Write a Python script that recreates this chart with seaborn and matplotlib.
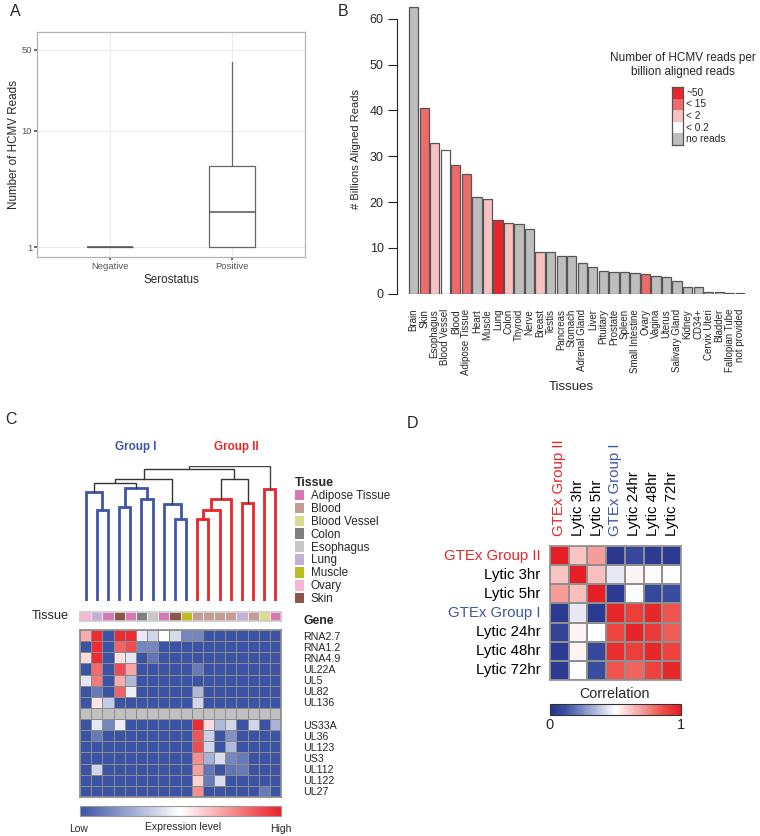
import numpy as np
import pandas as pd
import matplotlib.pyplot as plt
import seaborn as sns
from matplotlib.colors import LinearSegmentedColormap, ListedColormap
from matplotlib.patches import Patch
from matplotlib.ticker import NullLocator

sns.set_theme(style="white")
plt.rcParams['font.family'] = ['Liberation Sans', 'DejaVu Sans']

# ── Data ──────────────────────────────────────────────────
# A: HCMV reads by serostatus (box summary)
sero_groups = ['Negative', 'Positive']
sero_q1 = [1, 1]
sero_median = [1, 2.0]
sero_q3 = [1, 5.0]
sero_whislo = [1, 1]
sero_whishi = [1, 39]

# B: aligned reads per tissue
tissues = ['Brain', 'Skin', 'Esophagus', 'Blood Vessel', 'Blood', 'Adipose Tissue',
           'Heart', 'Muscle', 'Lung', 'Colon', 'Thyroid', 'Nerve', 'Breast', 'Testis',
           'Pancreas', 'Stomach', 'Adrenal Gland', 'Liver', 'Pituitary', 'Prostate',
           'Spleen', 'Small Intestine', 'Ovary', 'Vagina', 'Uterus', 'Salivary Gland',
           'Kidney', 'CD34+', 'Cervix Uteri', 'Bladder', 'Fallopian Tube', 'not provided']
billions = [62.5, 40.6, 32.9, 31.4, 28.1, 26.2, 21.2, 20.7, 16.0, 15.5, 15.2, 14.1,
            9.1, 9.0, 8.3, 8.2, 6.8, 5.8, 5.0, 4.8, 4.7, 4.5, 4.3, 3.8, 3.7, 2.8,
            1.5, 1.4, 0.35, 0.3, 0.2, 0.2]
read_level = ['no reads', '< 15', '< 2', '< 0.2', '< 15', '< 15', 'no reads', '< 2',
              '~50', '< 2', 'no reads', 'no reads', '< 2', 'no reads', 'no reads',
              'no reads', 'no reads', 'no reads', 'no reads', 'no reads', 'no reads',
              'no reads', '< 15', 'no reads', 'no reads', 'no reads', 'no reads',
              'no reads', 'no reads', 'no reads', 'no reads', 'no reads']
level_names = ['~50', '< 15', '< 2', '< 0.2', 'no reads']
level_colors = ['#E8262B', '#EF6A6A', '#F8C1C1', '#FFFFFF', '#BEBEBE']

# C: tissue annotation, dendrogram and gene expression
tissue_names = ['Adipose Tissue', 'Blood', 'Blood Vessel', 'Colon', 'Esophagus',
                'Lung', 'Muscle', 'Ovary', 'Skin']
tissue_colors = ['#D678B8', '#C49C94', '#DBDB8D', '#7F7F7F', '#C7C7C7',
                 '#C5B0D5', '#BCBD22', '#F7B6D2', '#8C564B']
sample_tissue = ['Ovary', 'Lung', 'Adipose Tissue', 'Skin', 'Adipose Tissue', 'Colon',
                 'Esophagus', 'Adipose Tissue', 'Skin', 'Muscle', 'Blood', 'Blood',
                 'Blood', 'Blood', 'Lung', 'Blood', 'Blood Vessel', 'Adipose Tissue']
# linkage: node ids 0-17 are samples, merge k creates node 18+k
merge_left = [1, 0, 3, 5, 20, 8, 7, 19, 25, 10, 27, 28, 14, 29, 16, 26, 33]
merge_right = [2, 18, 4, 6, 21, 9, 23, 22, 24, 11, 12, 13, 15, 30, 17, 31, 32]
merge_height = [2.72, 3.26, 2.82, 3.04, 3.39, 2.45, 2.91, 3.54, 3.64,
                2.44, 2.72, 3.04, 2.94, 3.66, 3.35, 3.94, 4.04]
merge_group = ['I', 'I', 'I', 'I', 'I', 'I', 'I', 'top', 'top',
               'II', 'II', 'II', 'II', 'top', 'II', 'top', 'root']

genes_top = ['RNA2.7', 'RNA1.2', 'RNA4.9', 'UL22A', 'UL5', 'UL82', 'UL136']
genes_bottom = ['US33A', 'UL36', 'UL123', 'US3', 'UL112', 'UL122', 'UL27']
expr_top = [
    [0.68, 0.97, 0, 0.97, 0.97, 0.44, 0.38, 0.5, 0.4, 0.15, 0.15, 0, 0, 0, 0, 0, 0, 0],
    [0, 0.97, 0, 0.85, 0.9, 0.15, 0.15, 0, 0, 0, 0, 0, 0, 0, 0, 0, 0, 0],
    [0.58, 0.97, 0, 0.57, 0.43, 0, 0.1, 0, 0, 0, 0, 0, 0, 0, 0, 0, 0, 0],
    [0, 0.83, 0, 0.9, 0.7, 0, 0, 0, 0, 0, 0.12, 0, 0, 0, 0, 0, 0, 0],
    [0.43, 0.8, 0, 0.68, 0.3, 0, 0, 0, 0, 0, 0, 0, 0, 0, 0, 0, 0, 0],
    [0, 0.12, 0, 0.85, 0.45, 0, 0, 0, 0, 0, 0.3, 0, 0, 0, 0, 0, 0, 0],
    [0, 0.56, 0.35, 0, 0, 0, 0, 0, 0, 0, 0.38, 0, 0, 0, 0, 0, 0, 0],
]
expr_bottom = [
    [0, 0.43, 0.15, 0.45, 0, 0, 0, 0, 0, 0, 0.97, 0.58, 0.3, 0.38, 0, 0.38, 0, 0.28],
    [0, 0.12, 0, 0, 0, 0, 0, 0, 0, 0, 0.88, 0.36, 0, 0.18, 0, 0, 0, 0],
    [0, 0, 0, 0, 0, 0, 0, 0, 0, 0, 0.9, 0.38, 0, 0.3, 0, 0, 0, 0],
    [0, 0, 0, 0, 0, 0, 0, 0, 0, 0, 0.75, 0.28, 0.4, 0.15, 0.12, 0, 0, 0],
    [0, 0.38, 0, 0, 0, 0, 0, 0, 0, 0, 0.72, 0.1, 0, 0.1, 0.12, 0, 0, 0],
    [0, 0, 0, 0, 0, 0, 0, 0, 0, 0, 0.6, 0.12, 0.4, 0, 0, 0, 0, 0],
    [0, 0, 0, 0, 0, 0, 0, 0, 0, 0, 0.75, 0, 0, 0, 0, 0, 0.12, 0],
]

# D: correlation between GTEx groups and lytic time points
corr_labels = ['GTEx Group II', 'Lytic 3hr', 'Lytic 5hr', 'GTEx Group I',
               'Lytic 24hr', 'Lytic 48hr', 'Lytic 72hr']
corr_values = [
    [1.00, 0.62, 0.70, 0.02, 0.08, 0.03, 0.03],
    [0.62, 1.00, 0.63, 0.45, 0.52, 0.51, 0.50],
    [0.70, 0.63, 1.00, 0.03, 0.50, 0.08, 0.10],
    [0.03, 0.45, 0.03, 0.97, 0.90, 0.97, 0.85],
    [0.06, 0.52, 0.50, 0.88, 0.98, 0.91, 0.83],
    [0.03, 0.52, 0.08, 0.95, 0.90, 0.97, 0.89],
    [0.03, 0.50, 0.10, 0.85, 0.82, 0.89, 0.97],
]

# ── Styling ───────────────────────────────────────────────
BLUE, RED = '#3F56A6', '#E8262B'
GROUP_COLORS = {'I': BLUE, 'II': RED, 'top': '#333333', 'root': '#444444'}
cmap_expr = LinearSegmentedColormap.from_list('expr', ['#3A53A4', '#FFFFFF', '#EC1F26'])
cmap_corr = LinearSegmentedColormap.from_list(
    'corr', [(0, '#27348B'), (0.12, '#3C52A4'), (0.5, '#FFFFFF'), (0.88, '#EE4540'), (1, '#E51F25')])

W, H = 760, 836
fig = plt.figure(figsize=(W / 100, H / 100), dpi=100)


def box(x0, y0, x1, y1):
    return [x0 / W, 1 - y1 / H, (x1 - x0) / W, (y1 - y0) / H]


def ftext(x, y, s, **kw):
    fig.text(x / W, 1 - y / H, s, **kw)


# ── Panel A: box plot ─────────────────────────────────────
axA = fig.add_axes(box(37, 32, 305, 257))
stats = [dict(label=g, q1=a, med=m, q3=b, whislo=lo, whishi=hi, fliers=[])
         for g, a, m, b, lo, hi in zip(sero_groups, sero_q1, sero_median, sero_q3,
                                         sero_whislo, sero_whishi)]
axA.bxp(stats, positions=[0, 1], widths=0.375, showfliers=False, showcaps=False,
        patch_artist=True,
        boxprops=dict(facecolor='white', edgecolor='#666666', linewidth=0.9),
        medianprops=dict(color='#555555', linewidth=1.1),
        whiskerprops=dict(color='#666666', linewidth=0.9))
axA.set_yscale('log')
axA.set_ylim(0.82, 71.3)
axA.set_xlim(-0.6, 1.6)
axA.set_yticks([1, 10, 50])
axA.set_yticklabels(['1', '10', '50'])
axA.yaxis.set_minor_locator(NullLocator())
axA.grid(True, color='#ebebeb', linewidth=0.8)
axA.set_axisbelow(True)
for s in axA.spines.values():
    s.set_color('#b3b3b3')
    s.set_linewidth(0.9)
axA.tick_params(left=True, bottom=True, length=2, color='#555555',
                labelsize=6.8, labelcolor='#555555', pad=1.5)
axA.set_ylabel('Number of HCMV Reads', fontsize=8.4, labelpad=1)
axA.set_xlabel('Serostatus', fontsize=8.4, labelpad=2)

# ── Panel B: bar chart ────────────────────────────────────
axB = fig.add_axes(box(397, 4, 745, 293.7))
bar_df = pd.DataFrame({'tissue': tissues, 'reads': billions, 'level': read_level})
sns.barplot(data=bar_df, x='tissue', y='reads', hue='level', hue_order=level_names,
            palette=dict(zip(level_names, level_colors)), dodge=False, width=0.88,
            saturation=1, edgecolor='#555555', linewidth=0.9, legend=False, ax=axB)
axB.set_xlim(-1.58, 31.44)
axB.set_ylim(0, 63.2)
axB.set_yticks(range(0, 61, 10))
for side in ['top', 'right', 'bottom']:
    axB.spines[side].set_visible(False)
axB.spines['left'].set_bounds(0, 60)
axB.spines['left'].set_color('#222222')
axB.spines['left'].set_linewidth(0.8)
axB.tick_params(axis='y', left=True, length=6.5, width=0.8, color='#222222',
                labelsize=9, pad=3)
axB.tick_params(axis='x', bottom=False, length=0, pad=11, labelsize=7, labelrotation=90)
axB.set_ylabel('# Billions Aligned Reads', fontsize=8, labelpad=6)
axB.set_xlabel('Tissues', fontsize=9.5, labelpad=4)

ftext(683, 65, 'Number of HCMV reads per\nbillion aligned reads', fontsize=8.5,
      ha='center', va='center', linespacing=1.15)
axL = fig.add_axes(box(672, 87, 683, 145))
sns.heatmap(np.arange(len(level_names))[:, None], cmap=ListedColormap(level_colors),
            cbar=False, xticklabels=False, yticklabels=False, ax=axL)
for s in axL.spines.values():
    s.set_visible(True)
    s.set_color('#555555')
    s.set_linewidth(0.9)
for i, name in enumerate(level_names):
    axL.text(1.3, i + 0.5, name, fontsize=7.3, va='center', ha='left')

# ── Panel C: dendrogram, tissue bar, expression heatmap ───
axD0 = fig.add_axes(box(80, 466, 281, 600.7))
n_leaf = len(sample_tissue)
node_x = [i + 0.5 for i in range(n_leaf)]
node_h = [0.0] * n_leaf
for a, b, h, g in zip(merge_left, merge_right, merge_height, merge_group):
    xa, xb = node_x[a], node_x[b]
    col = GROUP_COLORS[g]
    lw = 2.0 if g in ('I', 'II') else 1.0
    axD0.plot([xa, xa, xb, xb], [node_h[a], h, h, node_h[b]], color=col, lw=lw,
              solid_joinstyle='miter')
    node_x.append((xa + xb) / 2)
    node_h.append(h)
axD0.set_xlim(0, n_leaf)
axD0.set_ylim(0, max(merge_height))
axD0.axis('off')
ftext(136, 447, 'Group I', color=BLUE, fontsize=8.4, fontweight='bold', ha='center', va='center')
ftext(236, 447, 'Group II', color=RED, fontsize=8.4, fontweight='bold', ha='center', va='center')

axT = fig.add_axes(box(80, 612, 281, 621))
codes = np.array([[tissue_names.index(t) for t in sample_tissue]])
sns.heatmap(codes, cmap=ListedColormap(tissue_colors), vmin=-0.5, vmax=len(tissue_names) - 0.5,
            cbar=False, linewidths=0.6, linecolor='#f2f2f2', xticklabels=False,
            yticklabels=False, ax=axT)
for s in axT.spines.values():
    s.set_visible(True)
    s.set_color('#cccccc')
ftext(50, 616, 'Tissue', fontsize=9.2, ha='center', va='center')

gene_labels = genes_top + [''] + genes_bottom
expr = np.array(expr_top + [[np.nan] * n_leaf] + expr_bottom)
sep = np.full_like(expr, np.nan)
sep[len(genes_top)] = 0
axH = fig.add_axes(box(80, 630, 281, 797))
caxC = fig.add_axes(box(80, 806, 281, 816))
sns.heatmap(pd.DataFrame(expr, index=gene_labels), cmap=cmap_expr, vmin=0, vmax=1,
            linewidths=0.7, linecolor='#8c8c8c', cbar_ax=caxC,
            cbar_kws={'orientation': 'horizontal'}, xticklabels=False,
            yticklabels=gene_labels, ax=axH)
sns.heatmap(pd.DataFrame(sep, index=gene_labels), cmap=ListedColormap(['#c0c0c0']),
            linewidths=0.7, linecolor='#8c8c8c', cbar=False, xticklabels=False,
            yticklabels=gene_labels, ax=axH)
axH.yaxis.tick_right()
axH.tick_params(axis='y', right=False, length=0, pad=16, labelsize=7.7, labelrotation=0)
for s in axH.spines.values():
    s.set_visible(True)
    s.set_color('#8c8c8c')
caxC.set_xticks([])
caxC.set_yticks([])
cbC = axH.collections[0].colorbar
cbC.outline.set_edgecolor('#999999')
cbC.outline.set_linewidth(0.8)
ftext(79, 829, 'Low', fontsize=7.5, ha='center', va='center')
ftext(183, 827, 'Expression level', fontsize=7.5, ha='center', va='center')
ftext(281, 829, 'High', fontsize=7.5, ha='center', va='center')
ftext(303, 621, 'Gene', fontsize=8.7, fontweight='bold', ha='left', va='center')

handles = [Patch(facecolor=c, edgecolor='none') for c in tissue_colors]
fig.legend(handles, tissue_names, title='Tissue', loc='upper left',
           bbox_to_anchor=(295 / W, 1 - 477 / H), frameon=False, fontsize=8.4,
           handlelength=0.75, handleheight=1.0, handletextpad=0.6, labelspacing=0.06,
           borderaxespad=0, borderpad=0, alignment='left',
           title_fontproperties={'weight': 'bold', 'size': 8.9})

# ── Panel D: correlation heatmap ──────────────────────────
label_color = {'GTEx Group II': RED, 'GTEx Group I': BLUE}
axC = fig.add_axes(box(550, 546, 681, 680))
caxD = fig.add_axes(box(550, 704, 681, 715))
sns.heatmap(pd.DataFrame(corr_values, index=corr_labels, columns=corr_labels),
            cmap=cmap_corr, vmin=0, vmax=1, linewidths=1.2, linecolor='#8f8f8f',
            cbar_ax=caxD, cbar_kws={'orientation': 'horizontal', 'ticks': [0, 1]}, ax=axC)
axC.xaxis.tick_top()
axC.tick_params(axis='x', top=False, length=0, pad=7, labelsize=10.8, labelrotation=90)
axC.tick_params(axis='y', left=False, length=0, pad=7, labelsize=10.8, labelrotation=0)
for lbl in axC.get_xticklabels() + axC.get_yticklabels():
    lbl.set_color(label_color.get(lbl.get_text(), 'black'))
for s in axC.spines.values():
    s.set_visible(True)
    s.set_color('#8f8f8f')
    s.set_linewidth(1.2)
cbD = axC.collections[0].colorbar
cbD.outline.set_edgecolor('#333333')
cbD.outline.set_linewidth(0.8)
cbD.ax.tick_params(length=0, labelsize=10.5, pad=2)
ftext(615, 694, 'Correlation', fontsize=10.3, ha='center', va='center')

# ── Panel letters ─────────────────────────────────────────
for letter, (x, y) in zip('ABCD', [(10, 12), (338, 12), (5, 420), (407, 424)]):
    ftext(x, y, letter, fontsize=11.5, ha='left', va='center')

fig.savefig('out.png', dpi=100, facecolor='white')
